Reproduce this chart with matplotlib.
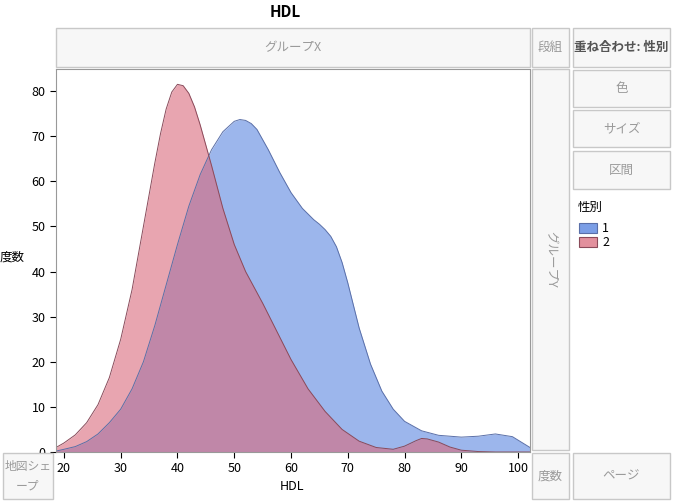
import matplotlib.pyplot as plt
from matplotlib.patches import Rectangle

plt.rcParams['font.family'] = ['Noto Sans CJK JP', 'DejaVu Sans']

# density curves (HDL vs 度数)
hdl_1 = [18.6, 20, 22, 24, 26, 28, 30, 32, 34, 36, 38, 40, 42, 44, 46, 48, 50, 51, 52, 53,
         54, 56, 58, 60, 62, 64, 65, 66, 67, 68, 69, 70, 71, 72, 74, 76, 78, 80, 83, 86,
         90, 93, 96, 99, 102.1]
cnt_1 = [0.2, 0.6, 1.2, 2.3, 4, 6.5, 9.5, 14, 20, 28, 37, 46, 54.5, 61.5, 67, 71, 73.3, 73.7,
         73.5, 72.8, 71.5, 67, 62, 57.5, 54, 51.5, 50.5, 49.3, 47.8, 45.5, 42, 37.5, 32.5, 27.5,
         19.5, 13.5, 9.5, 6.8, 4.7, 3.7, 3.3, 3.5, 4, 3.4, 1]
hdl_2 = [18.6, 20, 22, 24, 26, 28, 30, 32, 34, 35, 36, 37, 38, 39, 40, 41, 42, 43, 44, 45,
         46, 48, 50, 52, 55, 58, 60, 63, 66, 69, 72, 75, 78, 80, 82, 83, 84, 86, 88, 90,
         93, 96, 102.1]
cnt_2 = [1, 2, 3.8, 6.5, 10.5, 16.5, 25, 36, 50, 57, 64, 70.5, 76, 79.8, 81.5, 81.2, 79.5,
         76.5, 72.5, 68, 63.5, 54, 46, 40, 33, 25.5, 20.5, 14, 9, 5, 2.4, 1, 0.6, 1.3, 2.5,
         3, 2.9, 2.2, 1.1, 0.4, 0.1, 0, 0]

W, H = 673, 501
fig = plt.figure(figsize=(W / 100, H / 100), dpi=100)
fig.patch.set_facecolor('white')


def box(x0, y0, x1, y1, label=None, rot=0, color='#9a9a9a', bold=False, size=9):
    fig.patches.append(Rectangle((x0 / W, 1 - y1 / H), (x1 - x0) / W, (y1 - y0) / H,
                                 transform=fig.transFigure, facecolor='#f7f7f7',
                                 edgecolor='#c8c8c8', lw=1))
    if label:
        fig.text((x0 + x1) / 2 / W, 1 - (y0 + y1) / 2 / H, label, ha='center', va='center',
                 rotation=rot, fontsize=size, color=color, fontweight='bold' if bold else 'normal',
                 linespacing=1.6)


box(56, 28, 530, 67, 'グループX')
box(532, 28, 569, 67, '段組')
box(573, 28, 670, 67, '重ね合わせ: 性別', color='#555555', bold=True)
box(573, 70, 670, 107, '色')
box(573, 110, 670, 147, 'サイズ')
box(573, 151, 670, 189, '区間')
box(532, 69, 569, 450, 'グループY', rot=270)
box(3, 453, 53, 499, '地図シェ\nープ', size=8.5)
box(532, 453, 569, 499, '度数')
box(573, 453, 670, 499, 'ページ')

ax = fig.add_axes([56 / W, 1 - 452 / H, (530 - 56) / W, (452 - 69) / H])
ax.fill_between(hdl_1, cnt_1, color='#7b9ee6', alpha=0.75, lw=0)
ax.plot(hdl_1, cnt_1, color='#5a6fa8', lw=0.7)
ax.fill_between(hdl_2, cnt_2, color='#d9697c', alpha=0.6, lw=0)
ax.plot(hdl_2, cnt_2, color='#8a4a5a', lw=0.7)
ax.set_xlim(18.6, 102.1)
ax.set_ylim(0, 84.9)
ax.set_xticks(range(20, 101, 10))
ax.set_yticks(range(0, 81, 10))
ax.tick_params(labelsize=9, length=4)
for s in ax.spines.values():
    s.set_color('#999999')

fig.text(292 / W, 1 - 487 / H, 'HDL', ha='center', va='center', fontsize=9)
fig.text(12 / W, 1 - 257 / H, '度数', ha='center', va='center', fontsize=9)
fig.text(285 / W, 1 - 12 / H, 'HDL', ha='center', va='center', fontsize=11, fontweight='bold')

fig.text(578 / W, 1 - 207 / H, '性別', ha='left', va='center', fontsize=9)
for i, (lab, fc, ec) in enumerate([('1', '#7b9ee6', '#5a6fa8'), ('2', '#e2909d', '#8a4a5a')]):
    y = 228 + i * 14
    fig.patches.append(Rectangle((579 / W, 1 - (y + 5) / H), 18 / W, 10 / H,
                                 transform=fig.transFigure, facecolor=fc, edgecolor=ec, lw=0.8))
    fig.text(602 / W, 1 - y / H, lab, ha='left', va='center', fontsize=9)

fig.savefig('out.png', dpi=100)
